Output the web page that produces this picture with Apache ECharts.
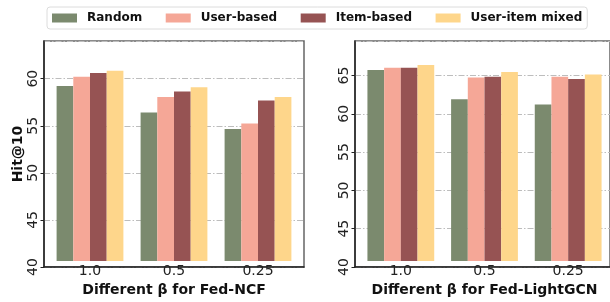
<!DOCTYPE html>
<html>
<head>
<meta charset="utf-8">
<script src="https://cdn.jsdelivr.net/npm/echarts@6/dist/echarts.min.js"></script>
<style>html,body{margin:0;padding:0;background:#fff;}#c{width:610px;height:302px;}</style>
</head>
<body>
<div id="c"></div>
<script>
const categories = ['1.0', '0.5', '0.25'];
const seriesNames = ['Random', 'User-based', 'Item-based', 'User-item mixed'];
const ncfRandom = [59.1, 56.2, 54.4];
const ncfUser = [60.1, 57.9, 55.0];
const ncfItem = [60.5, 58.5, 57.5];
const ncfMixed = [60.75, 58.95, 57.9];
const gcnRandom = [65.6, 61.7, 61.0];
const gcnUser = [65.9, 64.6, 64.7];
const gcnItem = [65.9, 64.7, 64.4];
const gcnMixed = [66.3, 65.35, 65.0];
const yTicksLeft = [40, 45, 50, 55, 60];
const yTicksRight = [40, 45, 50, 55, 60, 65];

const colors = ['#7b8a6e', '#f5a797', '#965353', '#fed68b'];
const FONT = 'DejaVu Sans';
const gridLine = { show: true, lineStyle: { color: '#bdbdbd', width: 1, type: [6, 2, 1.5, 2] } };

function frameY(gridIndex, min, max, ticks, name) {
  return {
    type: 'value', gridIndex, min, max, interval: 5,
    axisLine: { show: true, lineStyle: { color: '#222', width: 1.5 } },
    axisTick: { show: true, length: 3.5, lineStyle: { color: '#222' } },
    axisLabel: {
      show: true, rotate: 90, margin: 4, fontFamily: FONT, fontSize: 14, color: '#222',
      showMaxLabel: false,
      formatter: v => (ticks.indexOf(v) >= 0 ? String(v) : '')
    },
    splitLine: gridLine,
    name: name || '', nameLocation: 'middle', nameGap: 19,
    nameTextStyle: { fontFamily: FONT, fontSize: 14, fontWeight: 'bold', color: '#111' }
  };
}
function frameX(gridIndex) {
  return {
    type: 'value', gridIndex, min: 0, max: 1,
    axisLine: { show: true, onZero: false, lineStyle: { color: '#222', width: 1.5 } },
    axisTick: { show: false }, axisLabel: { show: false }, splitLine: { show: false }
  };
}
function barX(gridIndex, name) {
  return {
    type: 'category', gridIndex, data: categories,
    axisLine: { show: false }, axisTick: { show: false },
    axisLabel: { fontFamily: FONT, fontSize: 14, color: '#222', margin: 3 },
    name, nameLocation: 'middle', nameGap: 17,
    nameTextStyle: { fontFamily: FONT, fontSize: 14, fontWeight: 'bold', color: '#111' }
  };
}
function barY(gridIndex, min, max) {
  return { type: 'value', gridIndex, min, max, show: false, splitLine: { show: false } };
}
function bars(data, idx, axisIdx) {
  return {
    type: 'bar', name: seriesNames[idx], data,
    xAxisIndex: axisIdx, yAxisIndex: axisIdx,
    barWidth: 16.7, barGap: '0%',
    itemStyle: { color: colors[idx] }, z: 3
  };
}

const chart = echarts.init(document.getElementById('c'), null, { renderer: 'canvas' });
chart.setOption({
  animation: false,
  backgroundColor: '#fff',
  legend: {
    data: seriesNames, left: 47, top: 7,
    itemWidth: 25, itemHeight: 9, itemGap: 23.5,
    padding: [5, 5, 5, 5],
    borderColor: '#dcdcdc', borderWidth: 1, borderRadius: 3,
    icon: 'rect',
    textStyle: { fontFamily: FONT, fontSize: 12, fontWeight: 'bold', color: '#111', padding: [0, 0, 0, 5] }
  },
  grid: [
    { left: 44, top: 41, width: 260, height: 226, show: true, borderColor: '#666', borderWidth: 1.5, backgroundColor: 'transparent' },
    { left: 48, top: 41, width: 252, height: 226 },
    { left: 355, top: 41, width: 260, height: 226, show: true, borderColor: '#666', borderWidth: 1.5, backgroundColor: 'transparent' },
    { left: 359, top: 41, width: 252, height: 226 }
  ],
  xAxis: [frameX(0), barX(1, 'Different β for Fed-NCF'), frameX(2), barX(3, 'Different β for Fed-LightGCN')],
  yAxis: [frameY(0, 40, 64, yTicksLeft, 'Hit@10'), barY(1, 40, 64), frameY(2, 40, 69.5, yTicksRight, ''), barY(3, 40, 69.5)],
  series: [
    bars(ncfRandom, 0, 1), bars(ncfUser, 1, 1), bars(ncfItem, 2, 1), bars(ncfMixed, 3, 1),
    bars(gcnRandom, 0, 3), bars(gcnUser, 1, 3), bars(gcnItem, 2, 3), bars(gcnMixed, 3, 3)
  ]
});
</script>
</body>
</html>
